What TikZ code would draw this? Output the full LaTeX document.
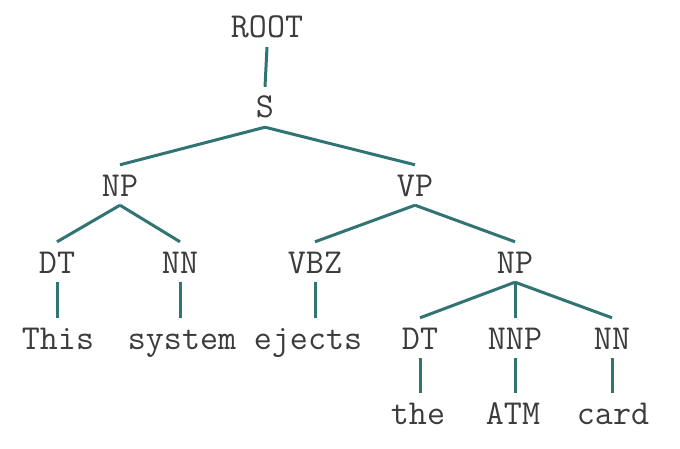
\documentclass[tikz,border=0pt]{standalone}
\usepackage{fontspec}
\usepackage{xcolor}
\definecolor{treeline}{RGB}{50,115,115}
\definecolor{labelgray}{RGB}{60,60,60}

\begin{document}
\begin{tikzpicture}[x = 1pt, y = 1pt,
	tag/.style = {font=\ttfamily\fontsize{35}{35}\selectfont, text=labelgray, inner sep=0pt,
		text height=26pt, text depth=4pt, minimum height=40pt},
	edge/.style = {treeline, line width=3pt}]
	\useasboundingbox (0,0) rectangle (680,448);
	
	% phrase labels
	\node[tag] (root) at (267, 448-27) {ROOT};
	\node[tag] (s) at (265, 448-107) {S};
	\node[tag] (np) at (120, 448-185) {NP};
	\node[tag] (vp) at (415, 448-185) {VP};
	\node[tag] (dt) at (57, 448-262) {DT};
	\node[tag] (nn) at (180, 448-262) {NN};
	\node[tag] (vbz) at (315, 448-262) {VBZ};
	\node[tag] (npb) at (515, 448-262) {NP};
	\node[tag] (dtb) at (420, 448-338) {DT};
	\node[tag] (nnp) at (515, 448-338) {NNP};
	\node[tag] (nnb) at (612, 448-338) {NN};
	
	% words
	\node[tag] (this) at (58, 448-338) {This};
	\node[tag] (system) at (182, 448-338) {system};
	\node[tag] (ejects) at (308, 448-338) {ejects};
	\node[tag] (the) at (418, 448-413) {the};
	\node[tag] (atm) at (513, 448-413) {ATM};
	\node[tag] (card) at (613, 448-413) {card};
	
	% branches
	\draw[edge] (root.south) -- (s.north);
	\draw[edge] (s.south) -- (np.north);
	\draw[edge] (s.south) -- (vp.north);
	\draw[edge] (np.south) -- (dt.north);
	\draw[edge] (np.south) -- (nn.north);
	\draw[edge] (vp.south) -- (vbz.north);
	\draw[edge] (vp.south) -- (npb.north);
	\draw[edge] (npb.south) -- (dtb.north);
	\draw[edge] (npb.south) -- (nnp.north);
	\draw[edge] (npb.south) -- (nnb.north);
	\draw[edge] (dt.south) -- (dt.south |- this.north);
	\draw[edge] (nn.south) -- (nn.south |- system.north);
	\draw[edge] (vbz.south) -- (vbz.south |- ejects.north);
	\draw[edge] (dtb.south) -- (dtb.south |- the.north);
	\draw[edge] (nnp.south) -- (nnp.south |- atm.north);
	\draw[edge] (nnb.south) -- (nnb.south |- card.north);
\end{tikzpicture}
\end{document}
